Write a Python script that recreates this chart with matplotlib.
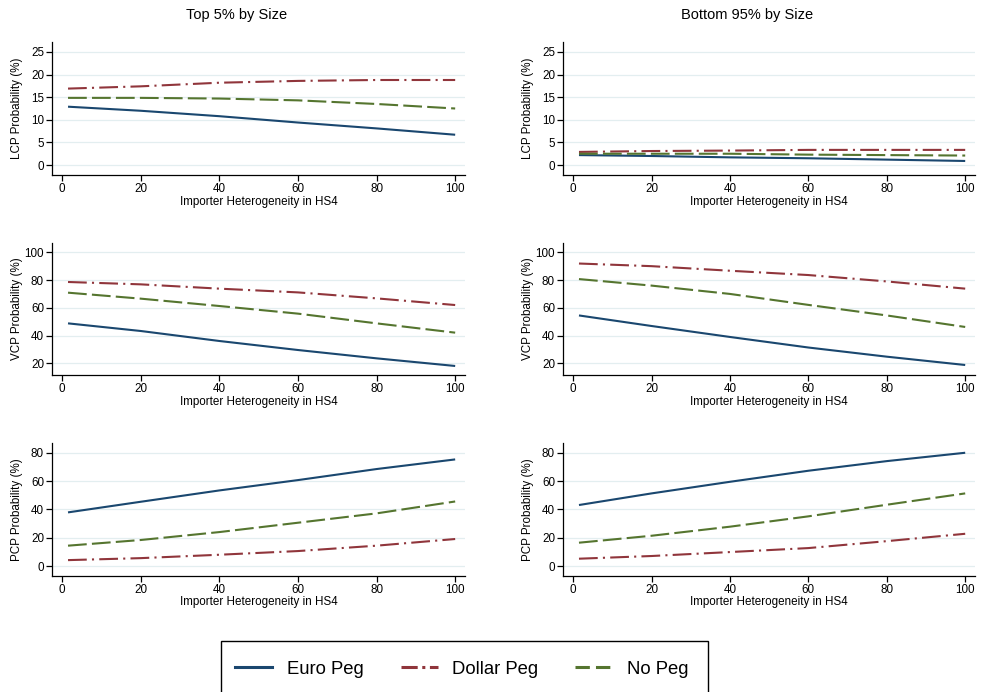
import matplotlib
matplotlib.use('Agg')
import matplotlib.pyplot as plt
from matplotlib.lines import Line2D
from matplotlib.patches import Rectangle

plt.rcParams['font.family'] = ['Liberation Sans', 'DejaVu Sans']

# 数据
x = [1.5, 20, 40, 60, 80, 100]

lcp_top_euro = [12.9, 12.0, 10.8, 9.4, 8.1, 6.7]
lcp_top_dollar = [16.9, 17.4, 18.2, 18.6, 18.8, 18.8]
lcp_top_nopeg = [14.85, 14.85, 14.7, 14.3, 13.5, 12.5]

lcp_bot_euro = [2.2, 2.0, 1.7, 1.5, 1.2, 0.9]
lcp_bot_dollar = [2.9, 3.1, 3.2, 3.35, 3.35, 3.35]
lcp_bot_nopeg = [2.5, 2.5, 2.5, 2.3, 2.2, 2.1]

vcp_top_euro = [48.8, 43.3, 36.1, 29.6, 23.6, 18.1]
vcp_top_dollar = [78.6, 76.9, 73.8, 71.1, 66.8, 62.0]
vcp_top_nopeg = [70.9, 66.6, 61.3, 55.8, 48.8, 42.1]

vcp_bot_euro = [54.5, 46.9, 39.0, 31.4, 24.8, 18.8]
vcp_bot_dollar = [91.9, 90.0, 86.7, 83.6, 79.0, 73.8]
vcp_bot_nopeg = [80.7, 76.0, 70.0, 62.1, 54.5, 46.2]

pcp_top_euro = [37.9, 45.4, 53.4, 60.7, 68.5, 75.3]
pcp_top_dollar = [4.2, 5.6, 8.0, 10.6, 14.4, 19.1]
pcp_top_nopeg = [14.4, 18.4, 24.0, 30.6, 37.2, 45.6]

pcp_bot_euro = [43.1, 51.3, 59.5, 67.3, 74.1, 80.0]
pcp_bot_dollar = [5.2, 7.1, 9.9, 12.7, 17.6, 22.8]
pcp_bot_nopeg = [16.5, 21.4, 27.8, 35.1, 43.3, 51.3]

col_titles = ['Top 5% by Size', 'Bottom 95% by Size']
row_labels = ['LCP Probability (%)', 'VCP Probability (%)', 'PCP Probability (%)']
row_ticks = [[0, 5, 10, 15, 20, 25], [20, 40, 60, 80, 100], [0, 20, 40, 60, 80]]
row_ylims = [(-2.2, 27.2), (11.6, 106.9), (-6.8, 87.1)]
x_ticks = [0, 20, 40, 60, 80, 100]

panels = [
    [(lcp_top_euro, lcp_top_dollar, lcp_top_nopeg), (lcp_bot_euro, lcp_bot_dollar, lcp_bot_nopeg)],
    [(vcp_top_euro, vcp_top_dollar, vcp_top_nopeg), (vcp_bot_euro, vcp_bot_dollar, vcp_bot_nopeg)],
    [(pcp_top_euro, pcp_top_dollar, pcp_top_nopeg), (pcp_bot_euro, pcp_bot_dollar, pcp_bot_nopeg)],
]

navy = '#1a476f'
maroon = '#90353b'
green = '#55752f'
grid_col = '#e3eef0'

W, H = 982, 692
fig = plt.figure(figsize=(W / 100, H / 100), dpi=100)

col_x = [(52.3, 412.7), (563.3, 411.7)]
row_y = [(42, 133), (242.7, 132.3), (442.7, 133)]

for r in range(3):
    for c in range(2):
        x0, w = col_x[c]
        y0, h = row_y[r]
        ax = fig.add_axes([x0 / W, 1 - (y0 + h) / H, w / W, h / H])
        euro, dollar, nopeg = panels[r][c]
        ax.plot(x, euro, color=navy, lw=1.5, solid_capstyle='butt')
        ax.plot(x, dollar, color=maroon, lw=1.5, dashes=(9, 2.5, 1, 2.5))
        ax.plot(x, nopeg, color=green, lw=1.5, dashes=(9, 2.5))

        ax.set_xlim(-2.5, 102.5)
        ax.set_ylim(*row_ylims[r])
        ax.set_xticks(x_ticks)
        ax.set_yticks(row_ticks[r])
        for t in row_ticks[r]:
            ax.axhline(t, color=grid_col, lw=0.9, zorder=0)
        ax.spines['top'].set_visible(False)
        ax.spines['right'].set_visible(False)
        ax.spines['left'].set_linewidth(0.9)
        ax.spines['bottom'].set_linewidth(0.9)
        ax.tick_params(direction='out', length=4, width=0.9, labelsize=8.4, pad=2,
                       colors='black')
        ax.set_ylabel(row_labels[r], fontsize=8.4)
        ax.yaxis.set_label_coords(-0.072, 0.5)
        ax.set_xlabel('Importer Heterogeneity in HS4', fontsize=8.4)
        ax.xaxis.set_label_coords(0.5, -0.155)

fig.text(237 / W, 1 - 15.5 / H, col_titles[0], ha='center', va='center', fontsize=10.5)
fig.text(747 / W, 1 - 15.5 / H, col_titles[1], ha='center', va='center', fontsize=10.5)

# 图例
fig.add_artist(Rectangle((220.7 / W, 1 - 700 / H), (708 - 220.7) / W, (700 - 641) / H,
                         transform=fig.transFigure, fill=False, ec='black', lw=1))
handles = [
    Line2D([], [], color=navy, lw=2.2),
    Line2D([], [], color=maroon, lw=2.2, dashes=(5.3, 1.5, 1, 1.5)),
    Line2D([], [], color=green, lw=2.2, dashes=(4.7, 2)),
]
fig.legend(handles, ['Euro Peg', 'Dollar Peg', 'No Peg'], ncol=3, frameon=False,
           loc='center', bbox_to_anchor=(462 / W, 1 - 669 / H), fontsize=13.3,
           handlelength=2.0, handletextpad=0.8, columnspacing=2.0)

fig.savefig('out.png', dpi=100)
plt.close(fig)
